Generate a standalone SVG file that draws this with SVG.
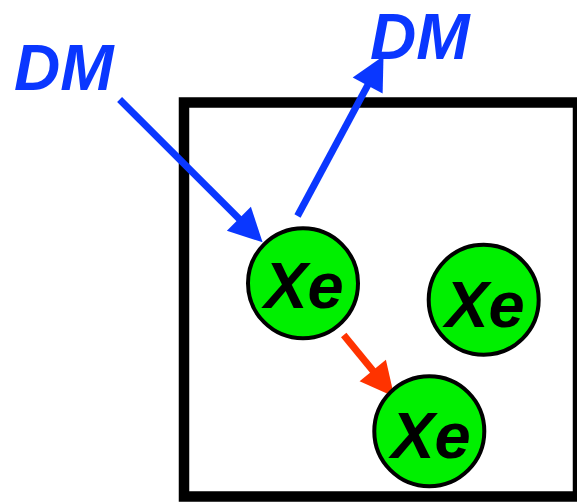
<svg xmlns="http://www.w3.org/2000/svg" width="577" height="503" viewBox="0 0 577 503">
<style>
.box{fill:none;stroke:#000;stroke-width:10.5}
.atom{fill:#00f000;stroke:#000;stroke-width:4}
.xe{font-family:"Liberation Sans",Arial,sans-serif;font-weight:bold;font-style:italic;font-size:65px;fill:#000;text-anchor:middle}
.dm{font-family:"Liberation Sans",Arial,sans-serif;font-weight:bold;font-style:italic;font-size:64px;fill:#0a37ff}
.blue{stroke:#0a37ff;stroke-width:7;fill:none}
.red{stroke:#ff3300;stroke-width:7;fill:none}
</style>
<defs>
<marker id="hb" markerUnits="userSpaceOnUse" viewBox="-2 -20 40 40" markerWidth="40" markerHeight="40" refX="2" refY="0" orient="auto"><path d="M0,-17 L33.5,0 L0,17 z" fill="#0a37ff"/></marker>
<marker id="hr" markerUnits="userSpaceOnUse" viewBox="-2 -20 40 40" markerWidth="40" markerHeight="40" refX="2" refY="0" orient="auto"><path d="M0,-17 L34,0 L0,17 z" fill="#ff3300"/></marker>
</defs>
<rect class="box" x="184" y="102.5" width="394" height="394"/>
<g id="connectors">
<line class="blue" x1="119.6" y1="99.5" x2="240.3" y2="220.1" marker-end="url(#hb)"/>
<line class="blue" x1="297.5" y1="216" x2="368.6" y2="83.7" marker-end="url(#hb)"/>
<line class="red" x1="343.7" y1="335" x2="374" y2="372" marker-end="url(#hr)"/>
</g>
<g id="dm1"><text class="dm" x="14" y="90">DM</text></g>
<g id="dm2"><text class="dm" x="370" y="58.5">DM</text></g>
<g id="xe1"><circle class="atom" cx="303" cy="283.3" r="55"/><text class="xe" x="304" y="308">Xe</text></g>
<g id="xe2"><circle class="atom" cx="483.7" cy="299.7" r="55"/><text class="xe" x="485" y="326.5">Xe</text></g>
<g id="xe3"><circle class="atom" cx="429.3" cy="431.3" r="55"/><text class="xe" x="431" y="458">Xe</text></g>
</svg>
